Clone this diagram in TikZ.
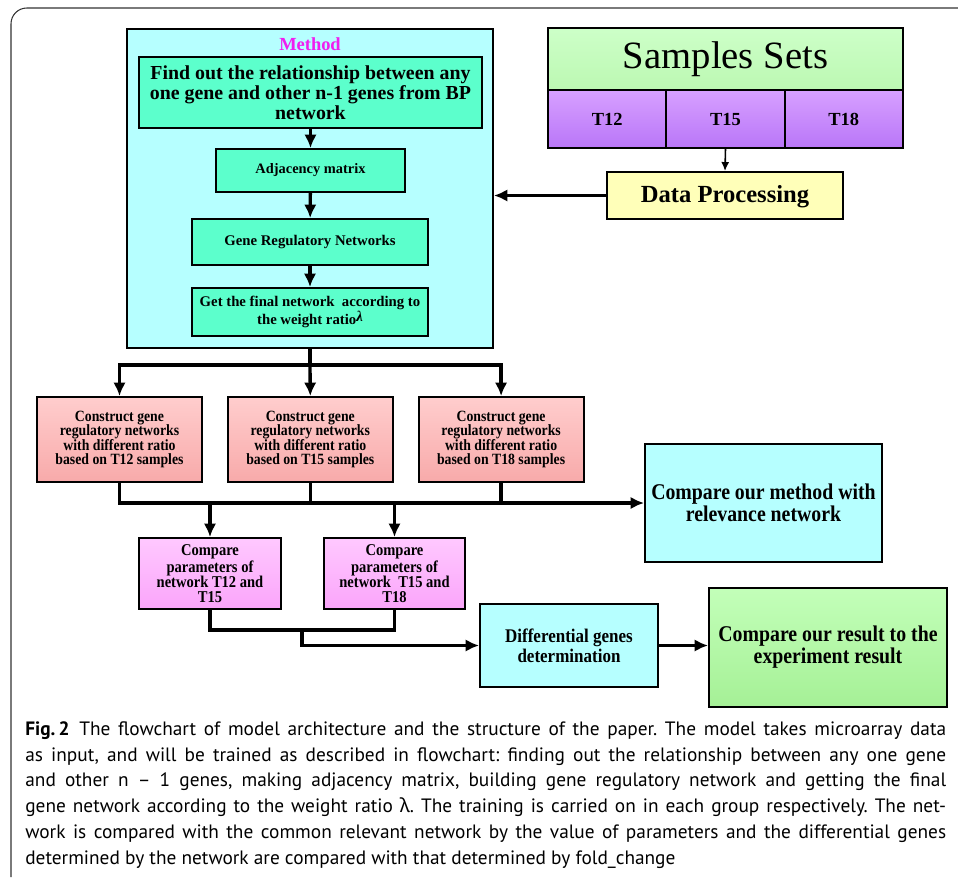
\documentclass[tikz,border=0pt]{standalone}
\usepackage{fontspec}
\setmainfont{Liberation Serif}
\newfontfamily\narrowserif[FakeStretch=0.88]{Liberation Serif}
\newfontfamily\capfont{PT Sans}
\newfontfamily\greekfont{Noto Sans}
\usepackage{tikz}
\usetikzlibrary{arrows.meta,positioning,calc}
\frenchspacing
\newcommand{\sz}[2]{\fontsize{#1}{#2}\selectfont}
\definecolor{cyanbg}{RGB}{182,255,255}
\definecolor{aqua}{RGB}{92,255,204}
\definecolor{greentop}{RGB}{205,255,200}
\definecolor{greenbot}{RGB}{188,248,178}
\definecolor{purtop}{RGB}{215,160,255}
\definecolor{purbot}{RGB}{185,118,248}
\definecolor{yellowbg}{RGB}{255,255,185}
\definecolor{pinktop}{RGB}{255,205,205}
\definecolor{pinkbot}{RGB}{248,170,170}
\definecolor{magtop}{RGB}{255,200,255}
\definecolor{magbot}{RGB}{250,165,250}
\definecolor{restop}{RGB}{195,255,185}
\definecolor{resbot}{RGB}{165,240,150}
\definecolor{magtxt}{RGB}{240,30,240}
\tikzset{box/.style={rectangle, draw=black, line width=1.1pt, align=center,
            inner sep=2pt, fill=#1},
         gbox/.style 2 args={rectangle, draw=black, line width=1.1pt, align=center,
            inner sep=2pt, top color=#1, bottom color=#2},
         conn/.style={line width=1.9pt},
         arr/.style={conn, -{Latex[length=2.7mm,width=2.5mm]}},
         arrthin/.style={line width=0.9pt, -{Latex[length=1.8mm,width=1.6mm]}}}

\begin{document}
\begin{tikzpicture}[x=0.02cm, y=-0.02cm]
\useasboundingbox (0,0) rectangle (958,877);
\draw [black!80, line width=0.6pt, rounded corners=9pt] (11,877) -- (11,8) -- (958,8);
% method block
\node (method) [box=cyanbg, minimum width=7.32cm, minimum height=6.38cm] at (310,188.5) {};
\node (mtitle) [font=\sz{10.5}{12}\bfseries, text=magtxt] at (310,44) {Method};
\node (find) [box=aqua, minimum width=6.86cm, minimum height=1.42cm,
              font=\sz{11.3}{11.4}\bfseries] at (310.5,92.5)
  {Find out the relationship between any\\one gene and other n-1 genes from BP\\network};
\node (adj) [box=aqua, minimum width=3.78cm, minimum height=0.86cm,
             font=\sz{8.2}{10}\bfseries] at (310.5,170.5) {Adjacency matrix};
\node (grn) [box=aqua, minimum width=4.72cm, minimum height=0.92cm,
             font=\sz{8.4}{10}\bfseries] at (310,242) {Gene Regulatory Networks};
\node (final) [box=aqua, minimum width=4.72cm, minimum height=0.96cm,
               font=\sz{8.4}{8.8}\bfseries] at (310,312)
  {Get the final network\ \ according to\\the weight ratio\raisebox{0.5ex}{\textit{λ}}};
\draw [arr] (find) -- (adj);
\draw [arr] (adj) -- (grn);
\draw [arr] (grn) -- (final);
% samples
\node (samples) [gbox={greentop}{greenbot}, minimum width=7.1cm, minimum height=1.24cm,
                 font=\sz{22}{24}] at (725.5,59) {Samples Sets};
\foreach \t [count=\i from 0] in {12,15,18}
  \node (t\t) [gbox={purtop}{purbot}, minimum width=2.366cm, minimum height=1.16cm,
               font=\sz{10.5}{12}\bfseries] at ({607.2+118.3*\i},119) {T\t};
\node (dp) [box=yellowbg, minimum width=4.72cm, minimum height=0.94cm,
            font=\sz{14}{16}\bfseries, text depth=0.5ex] at (725,195.5) {Data Processing};
\draw [arrthin] (t15.south) -- (dp.north);
\draw [arr] (dp.west) -- (dp.west -| method.east);
% groups
\foreach \t [count=\i from 0] in {12,15,18}
  \node (g\t) [gbox={pinktop}{pinkbot}, minimum width=3.3cm, minimum height=1.7cm,
               font=\narrowserif\sz{8.9}{8.3}\bfseries] at ({119.5+190.8*\i},439.5)
    {Construct gene\\regulatory networks\\with different ratio\\based on T\t\ samples};
\coordinate (split) at (method.south |- 0,365);
\draw [conn] (method.south) -- (split);
\draw [arr] (split) -| (g12.north);
\draw [arr] (split) -| (g18.north);
\draw [arr] (split) -- (g15.north);
\node (cmpnet) [box=cyanbg, minimum width=4.74cm, minimum height=2.36cm,
                font=\narrowserif\sz{12.8}{11.5}\bfseries] at (763.5,503)
  {Compare our method with\\relevance network};
\draw [arr] (g12.south) |- (cmpnet.west);
\draw [conn] (g15.south) -- (g15.south |- cmpnet.west);
\draw [conn] (g18.south) -- (g18.south |- cmpnet.west);
% parameters
\node (par1) [gbox={magtop}{magbot}, minimum width=2.84cm, minimum height=1.42cm,
              font=\narrowserif\sz{9.4}{8.6}\bfseries] at (210,573.5)
  {Compare\\parameters of\\network T12 and\\T15};
\node (par2) [gbox={magtop}{magbot}, minimum width=2.82cm, minimum height=1.42cm,
              font=\narrowserif\sz{9.4}{8.6}\bfseries] at (394.5,573.5)
  {Compare\\parameters of\\network\ \ T15 and\\T18};
\draw [arr] (par1.north |- cmpnet.west) -- (par1.north);
\draw [arr] (par2.north |- cmpnet.west) -- (par2.north);
\node (diff) [box=cyanbg, minimum width=3.56cm, minimum height=1.66cm,
              font=\narrowserif\sz{11}{11.3}\bfseries] at (569,645.5)
  {Differential genes\\determination};
\node (result) [gbox={restop}{resbot}, minimum width=4.76cm, minimum height=2.38cm,
                font=\narrowserif\sz{12.8}{11.5}\bfseries] at (828,647.5)
  {Compare our result to the\\experiment result};
\coordinate (join) at (302,630);
\draw [conn] (par1.south) |- (join) -| (par2.south);
\draw [arr] (join) |- (diff.west);
\draw [arr] (diff.east) -- (diff.east -| result.west);
% caption
\node (cap) [anchor=north west, inner sep=0pt, text width=18.42cm, align=justify,
             font=\capfont\sz{11}{14.74}] at (25,721)
  {\textbf{Fig.\,2}\enspace The flowchart of model architecture and the structure of the paper. The model takes microarray data\linebreak
   as input, and will be trained as described in flowchart: finding out the relationship between any one gene\linebreak
   and other n \textendash{} 1 genes, making adjacency matrix, building gene regulatory network and getting the final\linebreak
   gene network according to the weight ratio {\greekfont λ}. The training is carried on in each group respectively. The net-\linebreak
   work is compared with the common relevant network by the value of parameters and the differential genes\linebreak
   determined by the network are compared with that determined by fold\_change};
\end{tikzpicture}
\end{document}
